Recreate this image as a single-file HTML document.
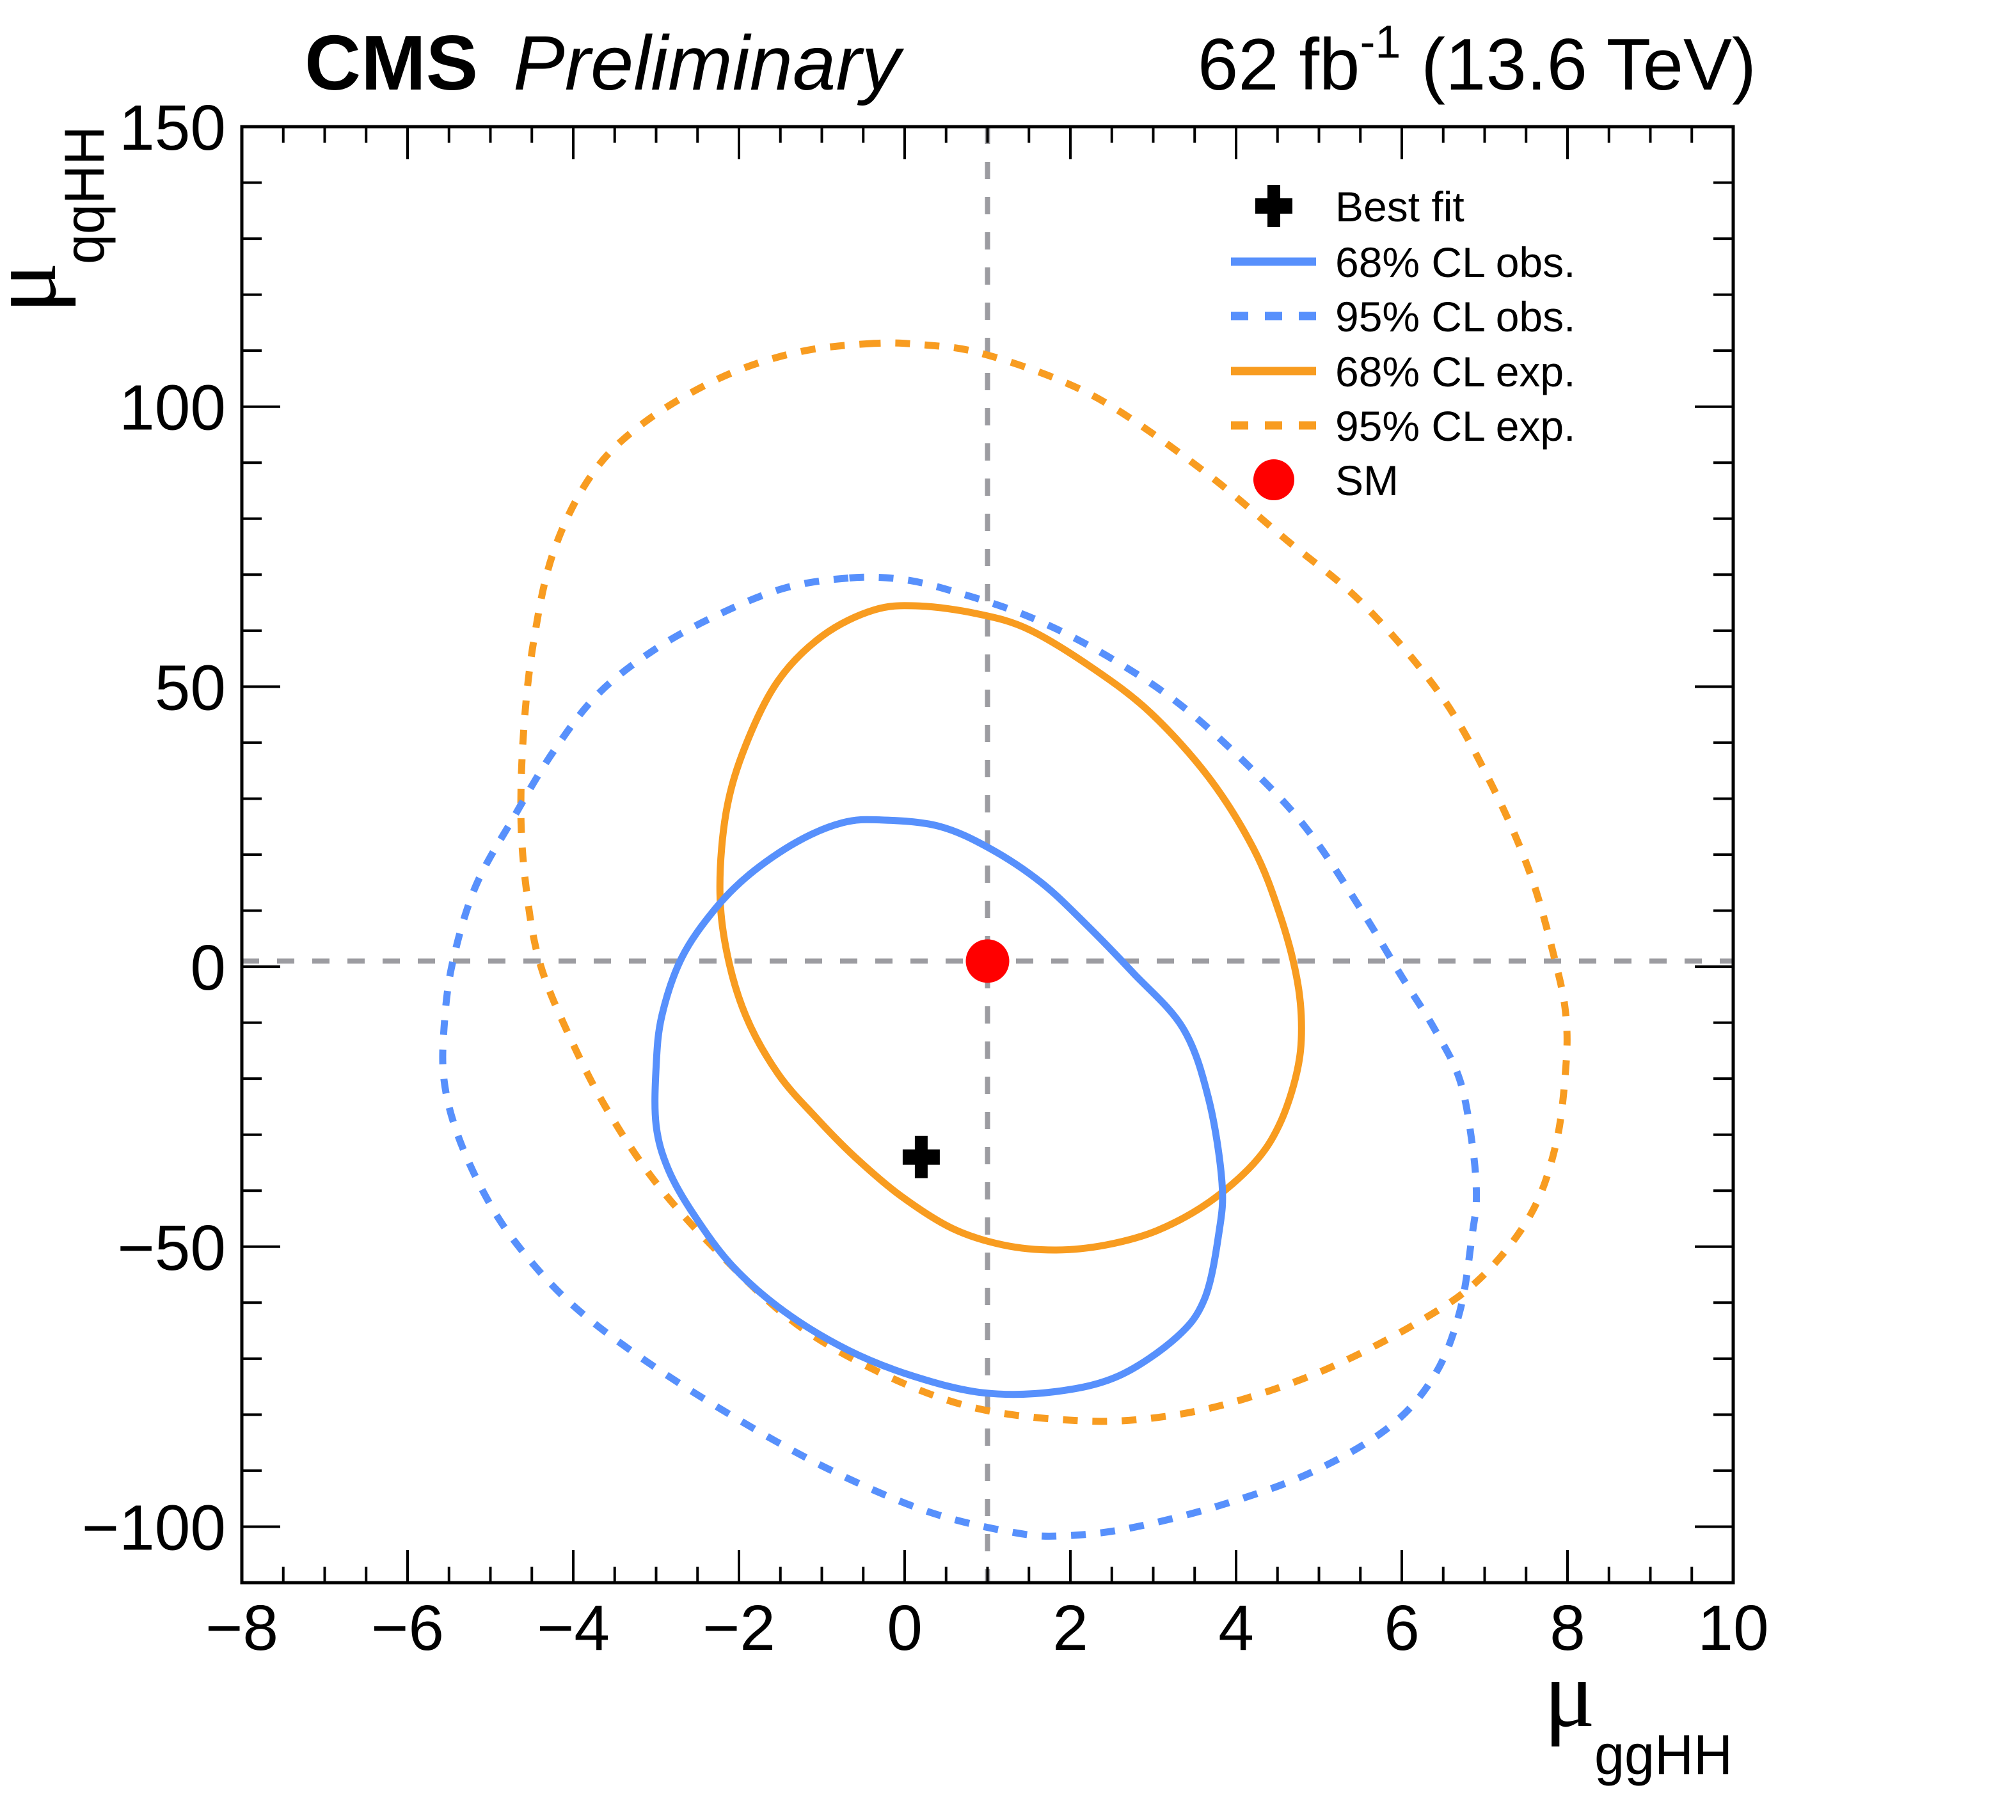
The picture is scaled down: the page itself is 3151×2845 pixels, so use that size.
<!DOCTYPE html>
<html><head><meta charset="utf-8"><title>CMS mu ggHH vs qqHH</title>
<style>html,body{margin:0;padding:0;background:#fff}svg{display:block}text{font-family:"Liberation Sans",sans-serif}</style>
</head><body>
<svg id="chart" width="3151" height="2845" viewBox="0 0 3151 2845" xmlns="http://www.w3.org/2000/svg">
<rect x="0" y="0" width="3151" height="2845" fill="#fff"/>
<g id="grid"></g>
<g id="series"></g>
<g id="axes"></g>
<text x="476" y="140" font-size="122" font-weight="bold">CMS</text>
<text x="802" y="140" font-size="121" font-style="italic">Preliminary</text>
<text x="2745" y="140" font-size="114" text-anchor="end">62 fb<tspan dy="-50" font-size="72">-1</tspan><tspan dy="50"> (13.6 TeV)</tspan></text>
<g>
<text x="2413" y="2698" font-size="150" style="font-family:'Liberation Serif',serif">μ</text>
<text x="2492" y="2773" font-size="88" textLength="216" lengthAdjust="spacingAndGlyphs">ggHH</text>
</g>
<g>
<text transform="translate(86,490) rotate(-90)" font-size="150" style="font-family:'Liberation Serif',serif">μ</text>
<text transform="translate(162,413) rotate(-90)" font-size="88" textLength="216" lengthAdjust="spacingAndGlyphs">qqHH</text>
</g>
<g id="legend"></g>
</svg>
<script>
const NS="http://www.w3.org/2000/svg";
const xMin=-8,xMax=10,yMin=-110,yMax=150;
const L=378,R=2709,T=198,B=2474;
function sx(v){return L+(v-xMin)/(xMax-xMin)*(R-L);}
function sy(v){return B-(v-yMin)/(yMax-yMin)*(B-T);}

const xTicks=[-8,-6,-4,-2,0,2,4,6,8,10];
const yTicks=[-100,-50,0,50,100,150];
const smPoint=[1,1];
const bestFit=[0.2,-34];

const obs68X=[-0.29,-0.75,-1.30,-1.87,-2.30,-2.69,-2.93,-3.00,-3.00,-2.85,-2.54,-2.07,-1.45,-0.68,0.10,0.95,1.81,2.58,3.28,3.62,3.79,3.83,3.67,3.36,2.75,2.20,1.65,1.03,0.41];
const obs68Y=[26.2,25.7,22.3,16.5,10.1,1.6,-8.7,-17.9,-28.3,-36.3,-44.4,-53.6,-61.6,-68.5,-73.1,-76.1,-75.9,-73.1,-66.2,-59.3,-47.8,-38.6,-23.7,-11.0,-1.0,7.4,15.0,21.1,25.1];

const exp68X=[0.18,-0.37,-0.99,-1.53,-1.92,-2.15,-2.23,-2.15,-1.92,-1.53,-1.06,-0.60,-0.05,0.57,1.19,1.81,2.43,3.05,3.67,4.21,4.52,4.73,4.79,4.73,4.52,4.21,3.67,2.97,2.27,1.50,0.88];
const exp68Y=[64.4,63.7,59.1,51.0,39.5,28.0,14.3,2.8,-8.7,-19.1,-27.1,-34.0,-40.9,-46.7,-49.7,-50.6,-49.7,-47.1,-42.1,-35.2,-28.3,-19.1,-11.0,-1.8,9.7,21.1,33.8,45.3,53.3,60.2,63.0];

const obs95X=[-0.68,-1.45,-2.23,-3.00,-3.70,-4.24,-4.71,-5.18,-5.46,-5.56,-5.56,-5.41,-5.10,-4.71,-4.09,-3.31,-2.23,-0.99,0.26,1.34,1.96,2.74,3.83,4.91,5.84,6.39,6.70,6.85,6.90,6.85,6.70,6.39,6.00,5.53,4.91,4.29,3.36,2.43,1.50,0.57,-0.05];
const obs95Y=[69.4,67.6,63.0,56.8,48.7,38.4,26.9,14.3,0.5,-11.0,-20.2,-29.4,-39.8,-49.0,-59.3,-68.5,-78.9,-89.2,-97.2,-101.1,-101.6,-100.2,-96.1,-90.3,-82.3,-73.1,-61.6,-47.8,-40.9,-31.7,-20.2,-11.0,-1.8,9.7,23.5,33.8,46.4,55.6,62.5,67.1,69.2];

const exp95X=[-0.37,-1.30,-2.23,-3.16,-3.78,-4.24,-4.48,-4.60,-4.63,-4.55,-4.40,-4.09,-3.62,-3.00,-2.23,-1.30,-0.21,0.88,2.12,3.05,3.98,5.07,6.15,6.93,7.55,7.86,7.98,7.98,7.86,7.55,7.08,6.46,5.53,4.60,3.67,2.58,1.81,0.88,0.26];
const exp95Y=[111.3,109.7,105.1,97.0,87.8,74.0,57.9,41.8,25.7,11.9,0.5,-11.0,-24.8,-38.6,-51.3,-63.9,-73.1,-78.9,-81.1,-80.5,-77.7,-72.0,-63.9,-55.9,-44.4,-31.7,-17.9,-8.7,0.5,16.6,32.6,48.7,64.8,76.3,87.8,99.3,105.1,109.7,111.0];

const BLUE="#5790fc",ORANGE="#f89c20";

function mk(tag,attrs,parent){const e=document.createElementNS(NS,tag);for(const k in attrs)e.setAttribute(k,attrs[k]);parent.appendChild(e);return e;}

const grid=document.getElementById('grid');
let gv=mk('line',{x1:sx(smPoint[0]),x2:sx(smPoint[0]),y1:T,y2:B,stroke:"#9c9ca1","stroke-width":8,"stroke-dasharray":"27 28"},grid);


let gh=mk('line',{x1:L,x2:R,y1:sy(smPoint[1]),y2:sy(smPoint[1]),stroke:"#9c9ca1","stroke-width":8,"stroke-dasharray":"27 28"},grid);



function closedPath(xs,ys){
  const p=xs.map((x,i)=>[sx(x),sy(ys[i])]);const n=p.length;
  let d=`M${p[0][0].toFixed(1)},${p[0][1].toFixed(1)}`;
  for(let i=0;i<n;i++){
    const p0=p[(i-1+n)%n],p1=p[i],p2=p[(i+1)%n],p3=p[(i+2)%n];
    const c1=[p1[0]+(p2[0]-p0[0])/6,p1[1]+(p2[1]-p0[1])/6];
    const c2=[p2[0]-(p3[0]-p1[0])/6,p2[1]-(p3[1]-p1[1])/6];
    d+=` C${c1[0].toFixed(1)},${c1[1].toFixed(1)} ${c2[0].toFixed(1)},${c2[1].toFixed(1)} ${p2[0].toFixed(1)},${p2[1].toFixed(1)}`;
  }
  return d+'Z';
}
const series=document.getElementById('series');
let c;
c=mk('path',{d:closedPath(exp95X,exp95Y),fill:"none",stroke:ORANGE,"stroke-width":11,"stroke-dasharray":"23 23"},series);


c=mk('path',{d:closedPath(obs95X,obs95Y),fill:"none",stroke:BLUE,"stroke-width":11,"stroke-dasharray":"23 23"},series);


c=mk('path',{d:closedPath(exp68X,exp68Y),fill:"none",stroke:ORANGE,"stroke-width":11},series);


c=mk('path',{d:closedPath(obs68X,obs68Y),fill:"none",stroke:BLUE,"stroke-width":11},series);



function cross(cx,cy,parent){
  const g=mk('g',{},parent);
  mk('rect',{x:cx-10,y:cy-33,width:20,height:66,fill:"#000"},g);
  mk('rect',{x:cx-29,y:cy-12,width:58,height:24,fill:"#000"},g);
  return g;
}
let bf=cross(sx(bestFit[0]),sy(bestFit[1]),series);


let sm=mk('circle',{cx:sx(smPoint[0]),cy:sy(smPoint[1]),r:34,fill:"#ff0000"},series);



const axes=document.getElementById('axes');
let fr=mk('rect',{x:L,y:T,width:R-L,height:B-T,fill:"none",stroke:"#000","stroke-width":5},axes);


for(let v=xMin;v<=xMax+1e-9;v+=0.5){
  const major=Math.abs(v-Math.round(v/2)*2)<1e-9;const len=major?51:25;const x=sx(v);
  mk('line',{x1:x,x2:x,y1:B,y2:B-len,stroke:"#000","stroke-width":4},axes);
  mk('line',{x1:x,x2:x,y1:T,y2:T+len,stroke:"#000","stroke-width":4},axes);
}
for(let v=yMin;v<=yMax+1e-9;v+=10){
  const major=v%50===0;const len=major?60:31;const y=sy(v);
  mk('line',{x1:L,x2:L+len,y1:y,y2:y,stroke:"#000","stroke-width":4},axes);
  mk('line',{x1:R,x2:R-len,y1:y,y2:y,stroke:"#000","stroke-width":4},axes);
}
xTicks.forEach(v=>{
  const t=mk('text',{x:sx(v),y:2579,"font-size":100,"text-anchor":"middle"},axes);
  t.textContent=v<0?'\u2212'+Math.abs(v):String(v);
  
  
});
yTicks.forEach(v=>{
  const t=mk('text',{x:353,y:sy(v)+36,"font-size":100,"text-anchor":"end"},axes);
  t.textContent=v<0?'\u2212'+Math.abs(v):String(v);
  
  
});

const legendLabels=["Best fit","68% CL obs.","95% CL obs.","68% CL exp.","95% CL exp.","SM"];
const lg=document.getElementById('legend');
const rowY=[322,409,494,580,665,750];
legendLabels.forEach((lab,i)=>{
  const g=mk('g',{},lg);
  
  
  const y=rowY[i];
  if(i===0){cross(1991,y,g);}
  else if(i===5){mk('circle',{cx:1991,cy:y,r:32,fill:"#ff0000"},g);}
  else{
    const col=(i<=2)?BLUE:ORANGE;const dashed=(i===2||i===4);
    const a={x1:1924,x2:2057,y1:y,y2:y,stroke:col,"stroke-width":13};
    if(dashed)a["stroke-dasharray"]="27 26";
    mk('line',a,g);
  }
  const t=mk('text',{x:2087,y:y+24,"font-size":66},g);
  t.textContent=lab;
});
</script>
</body></html>
